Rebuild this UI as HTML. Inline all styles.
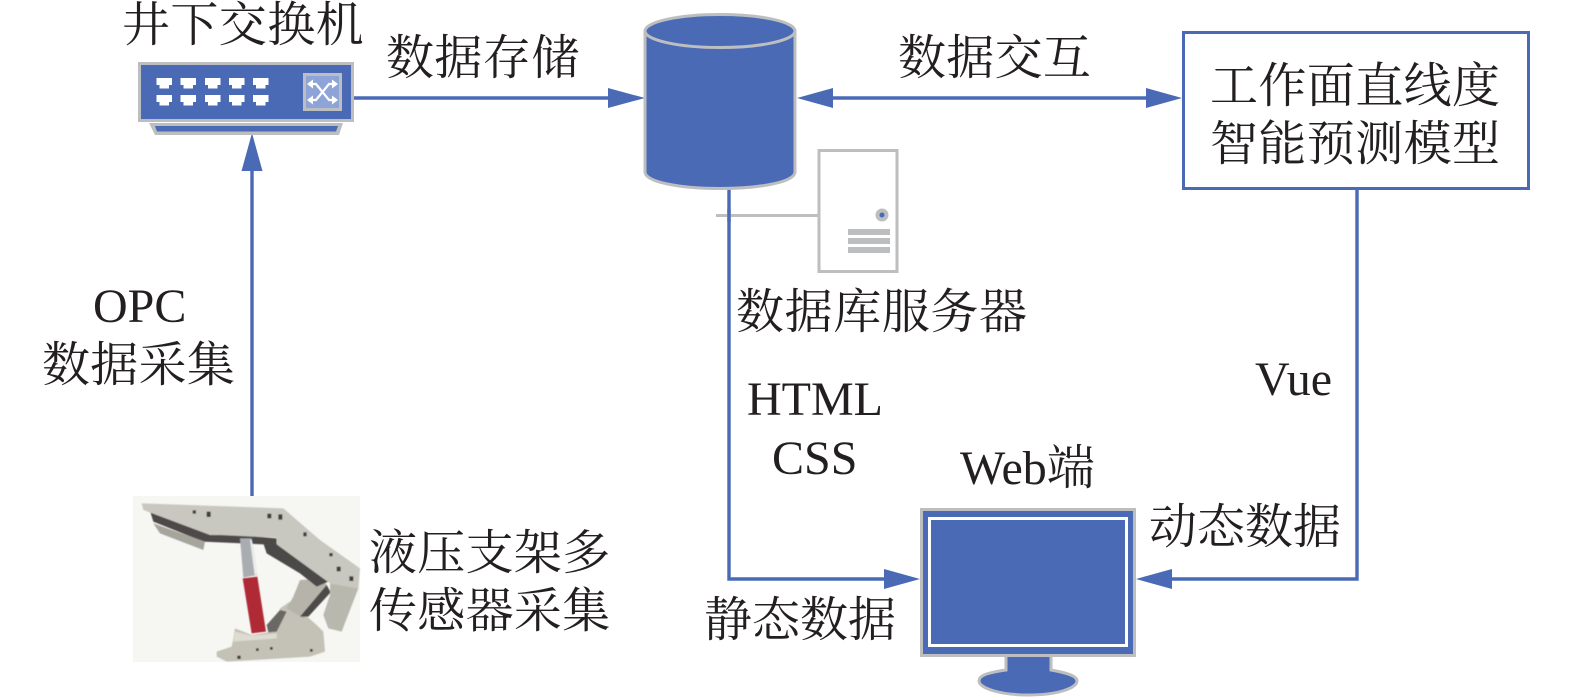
<!DOCTYPE html>
<html lang="zh">
<head>
<meta charset="utf-8">
<style>
html,body{margin:0;padding:0;background:#fff;width:1575px;height:697px;overflow:hidden}
svg{display:block}
text{font-size:48px;fill:#231f20;font-family:"Liberation Serif","Noto Serif CJK SC",serif}
</style>
</head>
<body>
<svg width="1575" height="697" viewBox="0 0 1575 697" xmlns="http://www.w3.org/2000/svg">
<defs>
<filter id="b" x="-5%" y="-5%" width="110%" height="110%"><feGaussianBlur stdDeviation="1.5"/></filter>
<g id="port"><polygon points="0,0 15.500,0 15.500,7 12.500,7 12.500,10.500 3,10.500 3,7 0,7" fill="#fff"/></g>
</defs>

<!-- connectors -->
<g fill="none" stroke="#4a6ab5" stroke-width="3.400">
<line x1="252" y1="170" x2="252" y2="497"/>
<line x1="354" y1="98" x2="608" y2="98"/>
<line x1="830" y1="98" x2="1146" y2="98"/>
<polyline points="729,188 729,579 886,579"/>
<polyline points="1357,188 1357,579 1170,579"/>
</g>
<g fill="#4a6ab5">
<polygon points="252,133 262.500,171 241.500,171"/>
<polygon points="645,98 608,88 608,108"/>
<polygon points="797,98 833,88 833,108"/>
<polygon points="1182,98 1146,88 1146,108"/>
<polygon points="920,579 884,569 884,589"/>
<polygon points="1136,579 1172,569 1172,589"/>
</g>

<!-- switch -->
<rect x="139.500" y="63.500" width="213" height="57" fill="#4a6ab5" stroke="#bcbec0" stroke-width="3"/>
<polygon points="149,123 343,123 339,135 155,135" fill="#bcbec0"/>
<polygon points="155,126 338,126 336,131.500 157,131.500" fill="#4a6ab5"/>
<g>
<use href="#port" x="156.500" y="78"/><use href="#port" x="180.500" y="78"/><use href="#port" x="205" y="78"/><use href="#port" x="229" y="78"/><use href="#port" x="253" y="78"/>
<use href="#port" x="156.500" y="95"/><use href="#port" x="180.500" y="95"/><use href="#port" x="205" y="95"/><use href="#port" x="229" y="95"/><use href="#port" x="253" y="95"/>
</g>
<rect x="304.500" y="74.500" width="36" height="35" fill="#8ea4d8" stroke="#bcbec0" stroke-width="3"/>
<g fill="none" stroke="#fff" stroke-width="2.200">
<path d="M309,84 H316 L329,100 H336"/>
<path d="M309,100 H316 L329,84 H336"/>
</g>
<g fill="#fff">
<polygon points="338,84 332,79.500 332,88.500"/>
<polygon points="338,100 332,95.500 332,104.500"/>
<polygon points="307,84 313,79.500 313,88.500"/>
<polygon points="307,100 313,95.500 313,104.500"/>
</g>

<!-- database -->
<path d="M645,31 V172 C645,182 680,188.500 720,188.500 C760,188.500 795,182 795,172 V31 Z" fill="#4a6ab5" stroke="#bcbec0" stroke-width="3"/>
<ellipse cx="720" cy="31" rx="75" ry="16.500" fill="#4a6ab5" stroke="#bcbec0" stroke-width="3"/>

<!-- server -->
<rect x="819" y="150.500" width="78" height="121" fill="#fff" stroke="#bcbec0" stroke-width="3"/>
<line x1="716" y1="215.500" x2="819" y2="215.500" stroke="#bcbec0" stroke-width="3"/>
<line x1="729" y1="209" x2="729" y2="222" stroke="#4a6ab5" stroke-width="3.400"/>
<circle cx="882" cy="215" r="6.500" fill="#bcbec0"/>
<circle cx="882" cy="215" r="2.500" fill="#4a6ab5"/>
<rect x="848" y="229" width="42" height="6" fill="#bcbec0"/>
<rect x="848" y="238" width="42" height="6" fill="#bcbec0"/>
<rect x="848" y="247" width="42" height="6" fill="#bcbec0"/>

<!-- model box -->
<rect x="1183.500" y="32.500" width="345" height="156" fill="#fff" stroke="#4a6ab5" stroke-width="3"/>

<!-- monitor -->
<path d="M1006,655 V670 C985,673 979,676 979,681 C979,688 1000,695 1028,695 C1058,695 1077,688 1077,681 C1077,676 1068,673 1051,670 V655 Z" fill="#4a6ab5" stroke="#bcbec0" stroke-width="3"/>
<rect x="921.500" y="509.500" width="213" height="146" fill="#4a6ab5" stroke="#bcbec0" stroke-width="3"/>
<rect x="929.500" y="518.500" width="197" height="127" fill="#4a6ab5" stroke="#fff" stroke-width="3"/>

<!-- hydraulic support picture -->
<rect x="133" y="496" width="227" height="166" fill="#f6f6f3"/>
<g transform="translate(120,485) scale(.33333)" filter="url(#b)">
<polygon points="345,430 395,450 460,440 480,370 510,350 590,420 610,440 615,500 570,515 320,530 290,515 290,500 335,485 340,460" fill="#c4c2b6"/>
<polygon points="345,440 395,452 470,445 470,460 340,470" fill="#dedcd2"/>
<polygon points="520,335 540,285 610,280 630,320 550,400 500,370" fill="#b5b3aa"/>
<polygon points="540,395 620,300 632,322 565,395" fill="#4e4c49"/>
<polygon points="440,420 480,375 500,380 470,440 445,442" fill="#6b6862"/>
<polygon points="430,175 470,175 625,290 590,305 540,265 440,205" fill="#4c4846"/>
<polygon points="90,78 300,145 470,160 470,180 300,172 250,170 100,110" fill="#4e4a48"/>
<polygon points="100,115 255,170 250,195 120,145" fill="#a6a59c"/>
<polygon points="360,160 395,160 412,270 370,278" fill="#a9adb1"/>
<polygon points="395,165 412,268 404,270 390,165" fill="#ecedec"/>
<polygon points="368,280 412,275 438,440 395,445" fill="#b02c36"/>
<polygon points="65,55 490,70 600,165 720,250 715,310 630,295 470,178 470,158 300,150 270,150 70,75" fill="#c9c8c0"/>
<polygon points="630,295 715,310 665,440 625,430 610,390 630,330" fill="#b9b8ae"/>
<g fill="#3e3c3a">
<rect x="218" y="76" width="10" height="10"/><rect x="260" y="80" width="12" height="16"/><rect x="442" y="86" width="12" height="14"/><rect x="475" y="88" width="12" height="16"/><rect x="550" y="142" width="10" height="12"/><rect x="628" y="204" width="10" height="10"/><rect x="650" y="245" width="12" height="14"/><rect x="688" y="274" width="12" height="14"/><rect x="408" y="490" width="8" height="8"/><rect x="450" y="486" width="8" height="8"/><rect x="570" y="492" width="8" height="8"/><rect x="352" y="512" width="10" height="10"/>
</g>
</g>

<!-- labels -->
<text x="122" y="41" letter-spacing=".4">井下交换机</text>
<text x="386" y="74" letter-spacing=".4">数据存储</text>
<text x="898" y="74" letter-spacing=".3">数据交互</text>
<text x="1210" y="102" letter-spacing=".4">工作面直线度</text>
<text x="1210" y="160" letter-spacing=".4">智能预测模型</text>
<text x="93" y="322">OPC</text>
<text x="42" y="381" letter-spacing=".3">数据采集</text>
<text x="369" y="569" letter-spacing=".3">液压支架多</text>
<text x="369" y="627" letter-spacing=".3">传感器采集</text>
<text x="736" y="328" letter-spacing=".6">数据库服务器</text>
<text x="747" y="415">HTML</text>
<text x="772" y="474">CSS</text>
<text x="1255" y="395">Vue</text>
<text x="960" y="484">Web端</text>
<text x="1149" y="543">动态数据</text>
<text x="704" y="636">静态数据</text>
</svg>
</body>
</html>
